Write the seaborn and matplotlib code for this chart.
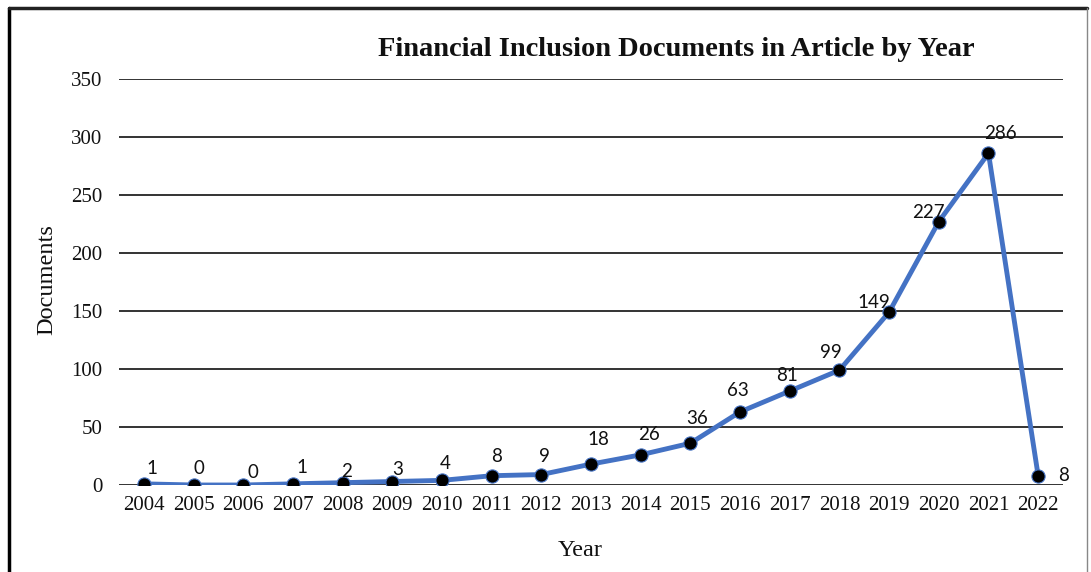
import matplotlib
matplotlib.use("Agg")
import matplotlib.pyplot as plt
import seaborn as sns
import pandas as pd
from matplotlib.lines import Line2D

years = [2004, 2005, 2006, 2007, 2008, 2009, 2010, 2011, 2012, 2013,
         2014, 2015, 2016, 2017, 2018, 2019, 2020, 2021, 2022]
documents = [1, 0, 0, 1, 2, 3, 4, 8, 9, 18, 26, 36, 63, 81, 99, 149, 227, 286, 8]
y_ticks = [0, 50, 100, 150, 200, 250, 300, 350]
title = "Financial Inclusion Documents in Article by Year"
x_label = "Year"
y_label = "Documents"

# label offsets in pixels (style only)
label_offsets = [(8, 15), (5, 17), (10, 12), (9, 16), (4, 11), (5, 12), (3, 17),
                 (5, 19), (3, 18), (7, 25), (8, 20), (7, 25), (-2, 21), (-3, 16),
                 (-9, 18), (-15, 10), (-10, 9), (12, 20), (25, 0)]

df = pd.DataFrame({"Year": years, "Documents": documents})

sns.set_theme(style="white")
serif = ["Liberation Serif", "DejaVu Serif"]
plt.rcParams["font.family"] = serif

fig = plt.figure(figsize=(10.91, 5.72), dpi=100)
ax = fig.add_axes([119 / 1091, 1 - 485 / 572, (1063 - 119) / 1091, (485 - 79) / 572])

line_color = "#4472C4"
sns.lineplot(data=df, x="Year", y="Documents", ax=ax, color=line_color, lw=3.5,
             marker="o", markersize=9.5, markerfacecolor="black",
             markeredgecolor=line_color, markeredgewidth=0.8, zorder=3)

ax.set_xlim(years[0] - 0.5, years[-1] + 0.5)
ax.set_ylim(0, 350)
ax.set_yticks(y_ticks)
ax.set_xticks(years)
ax.set_xticklabels([str(y) for y in years])
ax.yaxis.grid(True, color="#333333", lw=1.4)
ax.xaxis.grid(False)
for s in ax.spines.values():
    s.set_visible(False)
ax.tick_params(axis="both", length=0, labelsize=15, colors="#111111")
ax.tick_params(axis="x", pad=8)
ax.tick_params(axis="y", pad=12)

for yr, v, (dx, dy) in zip(years, documents, label_offsets):
    ax.annotate(str(v), (yr, v), xytext=(dx, dy), textcoords="offset pixels",
                ha="center", va="center", fontsize=13.5, family=["Lato", "DejaVu Sans"],
                color="#111111", zorder=4, annotation_clip=False)

ax.set_xlabel(x_label, fontsize=17.5, color="#111111")
ax.set_ylabel(y_label, fontsize=17.5, color="#111111")
ax.xaxis.set_label_coords((580 - 119) / (1063 - 119), -(550 - 485) / (485 - 79))
ax.yaxis.set_label_coords(-(119 - 47) / (1063 - 119), (485 - 280) / (485 - 79))
ax.xaxis.label.set_va("center")
ax.yaxis.label.set_va("center")

fig.text(676 / 1091, 1 - 49 / 572, title, ha="center", va="center",
         fontsize=20.5, fontweight="bold", color="#111111")

# outer frame
fig.add_artist(Line2D([9 / 1091, 9 / 1091], [0, 1 - 8 / 572], transform=fig.transFigure,
                      color="black", lw=2.5))
fig.add_artist(Line2D([9 / 1091, 1087 / 1091], [1 - 8 / 572, 1 - 8 / 572],
                      transform=fig.transFigure, color="#222222", lw=2.5))
fig.add_artist(Line2D([1087 / 1091, 1087 / 1091], [0, 1 - 8 / 572], transform=fig.transFigure,
                      color="#888888", lw=1.0))

fig.savefig("out.png", dpi=100)
